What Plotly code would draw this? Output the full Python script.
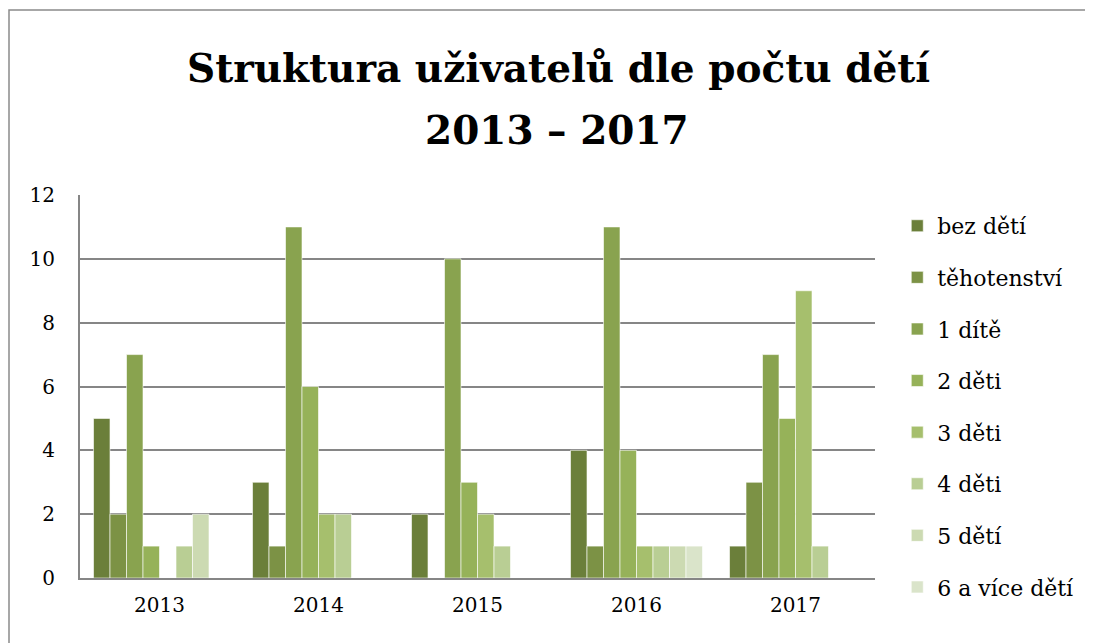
import plotly.graph_objects as go

years = ["2013", "2014", "2015", "2016", "2017"]
series_names = ["bez dětí", "těhotenství", "1 dítě", "2 děti", "3 děti", "4 děti", "5 dětí", "6 a více dětí"]
bez_deti = [5, 3, 2, 4, 1]
tehotenstvi = [2, 1, 0, 1, 3]
jedno_dite = [7, 11, 10, 11, 7]
dve_deti = [1, 6, 3, 4, 5]
tri_deti = [0, 2, 2, 1, 9]
ctyri_deti = [1, 2, 1, 1, 1]
pet_deti = [2, 0, 0, 1, 0]
sest_a_vice = [0, 0, 0, 1, 0]
values = [bez_deti, tehotenstvi, jedno_dite, dve_deti, tri_deti, ctyri_deti, pet_deti, sest_a_vice]
colors = ["#6B7F3A", "#7C9245", "#89A34F", "#96B259", "#A6BF6D", "#B9CE94", "#CCDAB2", "#DAE4CA"]
title_lines = ["Struktura uživatelů dle počtu dětí", "2013 – 2017"]

FONT = "DejaVu Serif"

fig = go.Figure()
for name, vals, col in zip(series_names, values, colors):
    fig.add_trace(go.Bar(
        x=years, y=vals, name=name, legendgroup=name,
        marker=dict(color=col, line=dict(color="rgba(255,255,255,0.6)", width=1)),
    ))

# The page body adds an 8px offset; the layout compensates for it.
fig.update_layout(
    width=1085, height=635, autosize=False,
    margin=dict(l=72, r=218, t=187, b=65, autoexpand=False),
    paper_bgcolor="white", plot_bgcolor="white",
    barmode="group", bargap=0.17, bargroupgap=0,
    font=dict(family=FONT, color="black", size=20),
    legend=dict(
        x=1.028, xanchor="left", y=0.974, yanchor="top",
        font=dict(family=FONT, size=22, color="black"),
        traceorder="grouped", tracegroupgap=20, maxheight=600,
        itemwidth=30, bgcolor="rgba(0,0,0,0)",
    ),
    xaxis=dict(
        showgrid=False, showline=True, linecolor="#868686", linewidth=2,
        ticks="", tickfont=dict(size=20), ticklabelstandoff=8,
    ),
    yaxis=dict(
        range=[0, 12], dtick=2, showgrid=True, gridcolor="#868686", gridwidth=2,
        showline=True, linecolor="#868686", linewidth=2, zeroline=False,
        ticks="", tickfont=dict(size=20), ticklabelstandoff=19,
    ),
    annotations=[
        dict(text="<b>%s</b>" % title_lines[0], xref="paper", yref="paper",
             x=0.6025, y=1.3316, xanchor="center", yanchor="middle", showarrow=False,
             font=dict(family=FONT, size=39, color="black")),
        dict(text="<b>%s</b>" % title_lines[1], xref="paper", yref="paper",
             x=0.6, y=1.1697, xanchor="center", yanchor="middle", showarrow=False,
             font=dict(family=FONT, size=39, color="black")),
    ],
    shapes=[dict(
        type="rect", xref="paper", yref="paper",
        x0=(1 - 72) / 795, x1=(1082 - 72) / 795,
        y0=-0.3, y1=(570 - 2) / 383,
        line=dict(color="#8A8A8A", width=1.5), fillcolor="rgba(0,0,0,0)", layer="below",
    )],
)

fig.write_html("out.html")
